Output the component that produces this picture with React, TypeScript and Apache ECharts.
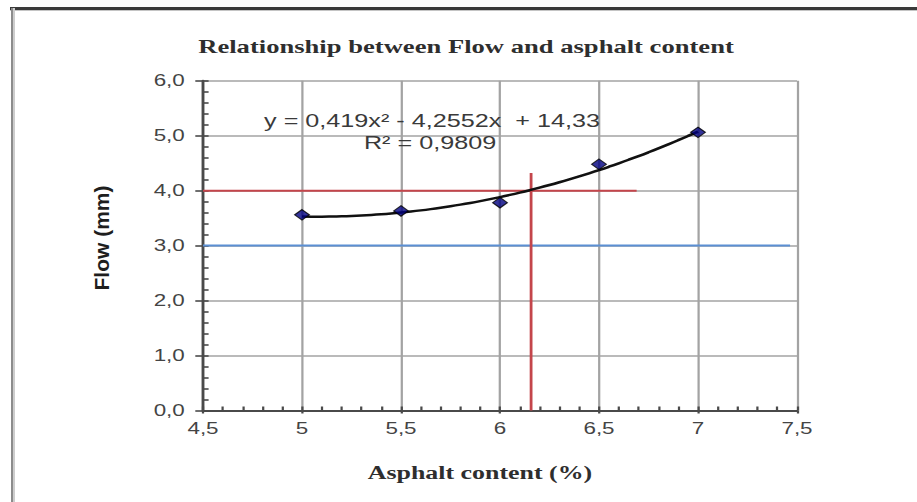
import { useEffect, useRef } from 'react';
import * as echarts from 'echarts';

// The drawing is laid out on a narrower canvas and stretched horizontally.
const STRETCH = 1.4;
const PAGE_W = 917;
const PAGE_H = 502;
const CHART_W = PAGE_W / STRETCH;

// Measured points
const asphaltContent = [5, 5.5, 6, 6.5, 7];
const flowValues = [3.56, 3.63, 3.78, 4.48, 5.06];

// Second-order trendline y = a x² + b x + c, shown between these contents
const trendCoefficients = [0.419, -4.2552, 14.33];
const trendRange = [5, 7];

// Reference lines
const flowUpperLimit = 4.0;
const flowUpperLimitEnd = 6.69;
const flowLowerLimit = 3.0;
const flowLowerLimitEnd = 7.465;
const optimumContent = 6.157;
const optimumLineTop = 4.32;

// Axes
const xAxisRange = [4.5, 7.5];
const xAxisStep = 0.5;
const yAxisRange = [0, 6];
const yAxisStep = 1;

const titleText = 'Relationship between Flow and asphalt content';
const xAxisTitle = 'Asphalt content (%)';
const yAxisTitle = 'Flow (mm)';
const equationText = 'y = 0,419x² - 4,2552x  + 14,33';
const rSquaredText = 'R² = 0,9809';

const commaDecimal = (v: number, digits?: number) =>
  (digits === undefined ? String(v) : v.toFixed(digits)).replace('.', ',');

function trendPoints(): number[][] {
  const [a, b, c] = trendCoefficients;
  const pts: number[][] = [];
  const steps = 40;
  for (let i = 0; i <= steps; i++) {
    const x = trendRange[0] + ((trendRange[1] - trendRange[0]) * i) / steps;
    pts.push([x, a * x * x + b * x + c]);
  }
  return pts;
}

const sx = (px: number) => px / STRETCH;

export default function App() {
  const ref = useRef<HTMLDivElement>(null);

  useEffect(() => {
    if (!ref.current) return;
    const chart = echarts.init(ref.current, undefined, { renderer: 'svg' });

    const labelStyle = {
      color: '#444444',
      fontSize: 16,
      fontFamily: 'Liberation Sans, Arial, sans-serif',
    };
    const tickColor = '#4a4a4a';
    const gridLine = { show: true, lineStyle: { color: '#a3a3a3', width: 1.6 } };
    const axisLine = { show: true, onZero: false, lineStyle: { color: '#4a4a4a', width: 2 } };

    chart.setOption({
      animation: false,
      backgroundColor: '#ffffff',
      grid: { left: 145, right: CHART_W - sx(797), top: 80.7, bottom: PAGE_H - 410.5, containLabel: false },
      xAxis: [
        {
          type: 'value',
          position: 'bottom',
          min: xAxisRange[0],
          max: xAxisRange[1],
          interval: xAxisStep,
          axisLine,
          axisTick: { show: true, inside: true, length: 4, lineStyle: { color: tickColor, width: 1.6 } },
          minorTick: { show: true, splitNumber: 5, length: 4, lineStyle: { color: tickColor, width: 1.6 } },
          splitLine: gridLine,
          axisLabel: { ...labelStyle, margin: 10, formatter: (v: number) => commaDecimal(v) },
        },
        {
          type: 'value',
          position: 'bottom',
          min: xAxisRange[0],
          max: xAxisRange[1],
          interval: xAxisStep,
          axisLine: { show: false, onZero: false },
          axisTick: { show: true, inside: false, length: 3, lineStyle: { color: tickColor, width: 1.6 } },
          axisLabel: { show: false },
          splitLine: { show: false },
        },
      ],
      yAxis: [
        {
          type: 'value',
          position: 'left',
          min: yAxisRange[0],
          max: yAxisRange[1],
          interval: yAxisStep,
          axisLine,
          axisTick: { show: true, inside: true, length: 4, lineStyle: { color: tickColor, width: 1.6 } },
          minorTick: { show: true, splitNumber: 5, length: 4, lineStyle: { color: tickColor, width: 1.6 } },
          splitLine: gridLine,
          axisLabel: { ...labelStyle, margin: 13, formatter: (v: number) => commaDecimal(v, 1) },
        },
        {
          type: 'value',
          position: 'left',
          min: yAxisRange[0],
          max: yAxisRange[1],
          interval: yAxisStep,
          axisLine: { show: false, onZero: false },
          axisTick: { show: true, inside: false, length: 5.5, lineStyle: { color: tickColor, width: 1.6 } },
          axisLabel: { show: false },
          splitLine: { show: false },
        },
      ],
      series: [
        {
          name: 'lower limit',
          type: 'line',
          data: [
            [xAxisRange[0], flowLowerLimit],
            [flowLowerLimitEnd, flowLowerLimit],
          ],
          showSymbol: false,
          lineStyle: { color: '#5b8fd4', width: 2 },
          z: 3,
        },
        {
          name: 'upper limit',
          type: 'line',
          data: [
            [xAxisRange[0], flowUpperLimit],
            [flowUpperLimitEnd, flowUpperLimit],
          ],
          showSymbol: false,
          lineStyle: { color: '#c4454b', width: 2 },
          z: 3,
        },
        {
          name: 'optimum content',
          type: 'line',
          data: [
            [optimumContent, yAxisRange[0]],
            [optimumContent, optimumLineTop],
          ],
          showSymbol: false,
          lineStyle: { color: '#c4454b', width: 2 },
          z: 3,
        },
        {
          name: 'trendline',
          type: 'line',
          data: trendPoints(),
          showSymbol: false,
          smooth: true,
          lineStyle: { color: '#111111', width: 2.5 },
          z: 4,
        },
        {
          name: 'Flow',
          type: 'scatter',
          data: asphaltContent.map((x, i) => [x, flowValues[i]]),
          symbol: 'diamond',
          symbolSize: 10.5,
          itemStyle: { color: '#000080', borderColor: '#000000', borderWidth: 1 },
          z: 5,
        },
      ],
      graphic: [
        { type: 'rect', shape: { x: sx(10), y: 7, width: CHART_W, height: 3 }, style: { fill: '#3a3a3a' } },
        { type: 'rect', shape: { x: sx(10), y: 10, width: CHART_W, height: 1 }, style: { fill: '#c4c4c4' } },
        { type: 'rect', shape: { x: sx(11), y: 8, width: sx(2), height: PAGE_H }, style: { fill: '#8c8c8c' } },
        { type: 'rect', shape: { x: sx(13), y: 8, width: sx(2), height: PAGE_H }, style: { fill: '#cdcdcd' } },
        {
          type: 'text',
          x: sx(466),
          y: 46,
          style: {
            text: titleText,
            fill: '#2e2e2e',
            font: 'bold 19px "Liberation Serif", "Times New Roman", serif',
            textAlign: 'center',
            textVerticalAlign: 'middle',
          },
        },
        {
          type: 'text',
          x: sx(432),
          y: 121,
          z: 10,
          style: {
            text: equationText,
            fill: '#3a3a3a',
            font: '18px "Liberation Sans", Arial, sans-serif',
            textAlign: 'center',
            textVerticalAlign: 'middle',
          },
        },
        {
          type: 'text',
          x: sx(430),
          y: 143,
          z: 10,
          style: {
            text: rSquaredText,
            fill: '#3a3a3a',
            font: '18px "Liberation Sans", Arial, sans-serif',
            textAlign: 'center',
            textVerticalAlign: 'middle',
          },
        },
        {
          type: 'text',
          x: sx(480),
          y: 473,
          style: {
            text: xAxisTitle,
            fill: '#2e2e2e',
            font: 'bold 18.5px "Liberation Serif", "Times New Roman", serif',
            textAlign: 'center',
            textVerticalAlign: 'middle',
          },
        },
        {
          type: 'text',
          x: sx(102),
          y: 238,
          rotation: Math.PI / 2,
          scaleY: 1 / STRETCH,
          style: {
            text: yAxisTitle,
            fill: '#1e1e1e',
            font: 'bold 21px "Liberation Sans", Arial, sans-serif',
            textAlign: 'center',
            textVerticalAlign: 'middle',
          },
        },
      ],
    });

    return () => chart.dispose();
  }, []);

  return (
    <div
      style={{
        position: 'fixed',
        left: 0,
        top: 0,
        width: PAGE_W,
        height: PAGE_H,
        overflow: 'hidden',
        background: '#ffffff',
      }}
    >
      <div
        ref={ref}
        style={{
          width: CHART_W,
          height: PAGE_H,
          transform: `scaleX(${STRETCH})`,
          transformOrigin: '0 0',
        }}
      />
    </div>
  );
}
